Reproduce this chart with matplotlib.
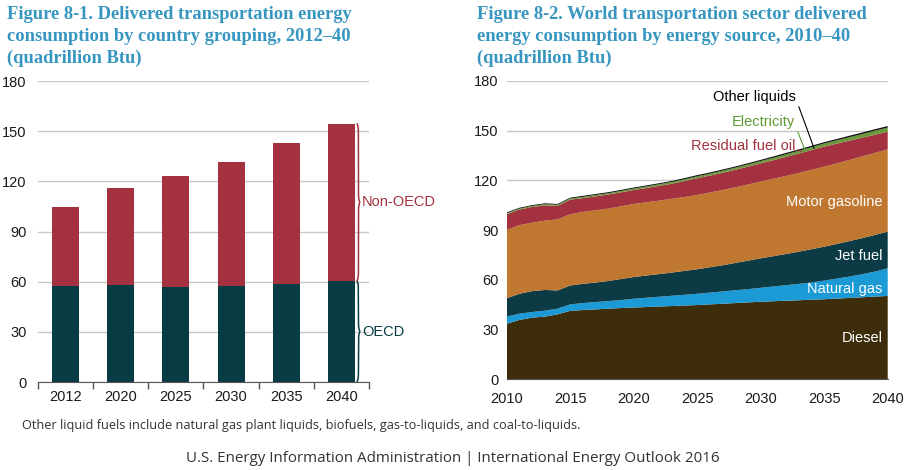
#!/usr/bin/env python3
"""Two-panel EIA chart: transportation energy by country grouping and by source."""

import matplotlib.pyplot as plt
import numpy as np

# Figure 8-1 data (quadrillion Btu)
bar_years = ["2012", "2020", "2025", "2030", "2035", "2040"]
oecd = [57.6, 58.2, 57.0, 57.6, 58.8, 60.4]
non_oecd = [47.1, 57.8, 66.0, 74.2, 83.9, 94.1]

# Figure 8-2 data (quadrillion Btu), annual 2010-2040
area_years = list(range(2010, 2041))
diesel = [33.5, 35.8, 37.2, 37.8, 39.2, 41.3, 41.8, 42.2, 42.6, 43.0, 43.3,
          43.6, 43.9, 44.2, 44.5, 44.8, 45.2, 45.6, 46.0, 46.4, 46.8,
          47.1, 47.4, 47.7, 48.0, 48.3, 48.7, 49.1, 49.5, 49.9, 50.3]
natural_gas = [4.3, 3.8, 3.4, 3.6, 3.4, 3.9, 4.2, 4.4, 4.6, 4.8, 5.3,
               5.6, 5.9, 6.2, 6.5, 6.8, 7.1, 7.4, 7.7, 8.0, 8.4,
               8.9, 9.4, 9.9, 10.4, 11.3, 12.1, 12.9, 13.9, 15.1, 16.7]
jet_fuel = [11.1, 12.0, 12.6, 12.5, 11.0, 11.4, 11.6, 11.8, 12.1, 12.7, 13.1,
            13.4, 13.7, 14.0, 14.4, 14.8, 15.3, 15.8, 16.5, 17.2, 17.8,
            18.3, 18.8, 19.4, 20.1, 20.4, 20.9, 21.4, 21.8, 22.1, 22.1]
motor_gasoline = [41.2, 41.4, 41.3, 41.8, 42.9, 43.0, 43.4, 43.6, 43.7, 43.9, 44.1,
                  44.2, 44.3, 44.5, 44.6, 44.8, 45.1, 45.4, 45.6, 45.9, 46.3,
                  46.7, 47.1, 47.5, 47.9, 48.3, 48.6, 49.0, 49.3, 49.5, 49.7]
residual_fuel_oil = [9.5, 9.4, 9.5, 9.3, 8.1, 8.8, 8.3, 8.4, 8.5, 8.4, 8.4,
                     8.6, 8.9, 9.1, 9.6, 10.1, 10.2, 10.4, 10.6, 10.8, 11.0,
                     11.2, 11.5, 11.7, 11.9, 12.1, 11.9, 11.6, 11.3, 11.0, 10.6]
electricity = [0.6, 0.6, 0.6, 0.7, 0.7, 0.7, 0.8, 0.8, 0.8, 0.9, 0.9,
               1.0, 1.0, 1.1, 1.1, 1.2, 1.2, 1.3, 1.3, 1.4, 1.4,
               1.5, 1.6, 1.7, 1.8, 1.9, 2.0, 2.1, 2.2, 2.4, 2.5]
other_liquids = [0.5, 0.5, 0.5, 0.5, 0.5, 0.5, 0.6, 0.6, 0.6, 0.6, 0.6,
                 0.6, 0.6, 0.6, 0.7, 0.7, 0.7, 0.7, 0.7, 0.7, 0.7,
                 0.8, 0.8, 0.8, 0.8, 0.8, 0.8, 0.9, 0.9, 0.9, 0.9]

TITLE_BLUE = "#3796C0"
MAROON = "#A3313F"
TEAL = "#073C44"
GRID = "#C8C8C8"
TXT = "#1a1a1a"

plt.rcParams.update({
    "font.family": ["Liberation Sans", "DejaVu Sans"],
    "font.size": 10,
})


def brace(ax, x0, y0, y1, width, color, beta=0.9):
    """Vertical curly brace '}' from y0 to y1 starting at x0."""
    n = 300
    ys = np.linspace(y0, y1, n)
    ymid = (y0 + y1) / 2
    half = ys[: n // 2]
    xh = 1 / (1 + np.exp(-beta * (half - half[0]))) + 1 / (1 + np.exp(-beta * (half - ymid)))
    xs = np.concatenate([xh, xh[::-1]])
    ax.plot(x0 + width * xs / 2, ys, color=color, lw=1.1, clip_on=False,
            solid_capstyle="round")


fig = plt.figure(figsize=(9.13, 4.70), dpi=100)

# ---------------- Figure 8-1 ----------------
ax1 = fig.add_axes([0.0416, 0.1872, 0.3625, 0.6404])
x = np.arange(len(bar_years))
ax1.bar(x, oecd, width=0.49, color=TEAL, zorder=2)
ax1.bar(x, non_oecd, width=0.49, bottom=oecd, color=MAROON, zorder=2)
ax1.set_xlim(-0.5, 5.5)
ax1.set_ylim(0, 180)
ax1.set_yticks(range(0, 181, 30))
ax1.yaxis.grid(True, color=GRID, lw=1.0)
ax1.set_axisbelow(True)
ax1.set_xticks(x)
ax1.set_xticklabels(bar_years)
ax1.set_xticks(np.arange(-0.5, 6, 1), minor=True)
ax1.tick_params(axis="x", which="major", length=0, pad=6, labelsize=10.5, colors=TXT)
ax1.tick_params(axis="x", which="minor", length=5, color="#555555", width=1)
ax1.tick_params(axis="y", length=0, pad=8, labelsize=10.5, colors=TXT)
for s in ["top", "right", "left"]:
    ax1.spines[s].set_visible(False)
ax1.spines["bottom"].set_color("#555555")

total_last = oecd[-1] + non_oecd[-1]
brace(ax1, 5.26, 0, oecd[-1], 0.1, TEAL)
brace(ax1, 5.26, oecd[-1], total_last, 0.1, MAROON)
ax1.text(5.37, oecd[-1] / 2, "OECD", color=TEAL, fontsize=10.5, va="center", ha="left")
ax1.text(5.37, oecd[-1] + non_oecd[-1] / 2, "Non-OECD", color=MAROON, fontsize=10.5,
         va="center", ha="left")

fig.text(0.008, 0.988,
         "Figure 8-1. Delivered transportation energy\n"
         "consumption by country grouping, 2012\u201340\n"
         "(quadrillion Btu)",
         family="Liberation Serif", fontweight="bold", fontsize=13.3, color=TITLE_BLUE,
         va="top", ha="left", linespacing=1.4)

# ---------------- Figure 8-2 ----------------
ax2 = fig.add_axes([0.555, 0.193, 0.4173, 0.6347])
layers = [diesel, natural_gas, jet_fuel, motor_gasoline, residual_fuel_oil, electricity, other_liquids]
colors = ["#3D2D0B", "#1B9AD6", "#0C3A45", "#C0772F", "#A3313F", "#6A9A3B", "#111111"]
ax2.stackplot(area_years, *layers, colors=colors, lw=0, zorder=2)
ax2.set_xlim(2010, 2040)
ax2.set_ylim(0, 180)
ax2.set_yticks(range(0, 181, 30))
ax2.set_xticks(range(2010, 2041, 5))
ax2.yaxis.grid(True, color=GRID, lw=1.0)
ax2.set_axisbelow(True)
ax2.tick_params(axis="x", length=0, pad=9, labelsize=10.5, colors=TXT)
ax2.tick_params(axis="y", length=0, pad=6, labelsize=10.5, colors=TXT)
for s in ["top", "right", "left"]:
    ax2.spines[s].set_visible(False)
ax2.spines["bottom"].set_color("#555555")

for label, y in [("Motor gasoline", 107), ("Jet fuel", 74.4), ("Natural gas", 54.5), ("Diesel", 25)]:
    ax2.text(2039.6, y, label, color="white", fontsize=10.5, ha="right", va="center", zorder=3)

ax2.annotate("Other liquids", xy=(2034.2, 139.4), xytext=(2032.8, 170.4),
             color="black", fontsize=10.5, ha="right", va="center",
             arrowprops=dict(arrowstyle="-", color="black", lw=0.8, shrinkA=0, shrinkB=0,
                             relpos=(1.0, 0.3)))
ax2.annotate("Electricity", xy=(2033.5, 138.0), xytext=(2032.7, 155.3),
             color="#5E9A32", fontsize=10.5, ha="right", va="center",
             arrowprops=dict(arrowstyle="-", color="#5E9A32", lw=0.8, shrinkA=0, shrinkB=0,
                             relpos=(1.0, 0.3)))
ax2.annotate("Residual fuel oil", xy=(2033.2, 137.4), xytext=(2032.7, 140.8),
             color=MAROON, fontsize=10.5, ha="right", va="center",
             arrowprops=dict(arrowstyle="-", color=MAROON, lw=0.8, shrinkA=0, shrinkB=0,
                             relpos=(1.0, 0.3)))

fig.text(0.522, 0.988,
         "Figure 8-2. World transportation sector delivered\n"
         "energy consumption by energy source, 2010\u201340\n"
         "(quadrillion Btu)",
         family="Liberation Serif", fontweight="bold", fontsize=13.3, color=TITLE_BLUE,
         va="top", ha="left", linespacing=1.4)

# ---------------- footnotes ----------------
fig.text(0.024, 0.094,
         "Other liquid fuels include natural gas plant liquids, biofuels, gas-to-liquids, and coal-to-liquids.",
         fontsize=9.2, color="#333333", ha="left", va="center", family="Open Sans")
fig.text(0.496, 0.025,
         "U.S. Energy Information Administration | International Energy Outlook 2016",
         fontsize=10.9, color="#333333", ha="center", va="center", family="Open Sans")

fig.savefig("out.png", dpi=100, facecolor="white")
